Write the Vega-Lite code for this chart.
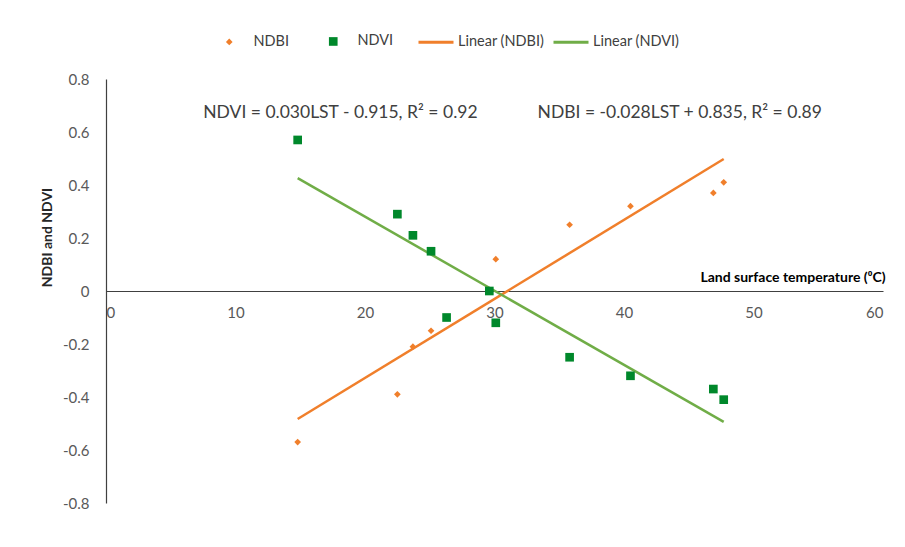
{
  "$schema": "https://vega.github.io/schema/vega-lite/v6.json",
  "width": 777,
  "height": 424,
  "autosize": {"type": "none"},
  "padding": {"left": 106, "top": 79, "right": 22, "bottom": 44},
  "background": "white",
  "config": {
    "view": {"stroke": null},
    "font": "Lato",
    "axis": {"grid": false, "ticks": false, "labelFont": "Lato", "labelFontSize": 15, "labelColor": "#595959", "domainColor": "#404040", "domainWidth": 1.2},
    "legend": {"labelFont": "Lato", "labelFontSize": 14.5, "labelColor": "#404040"}
  },
  "datasets": {
    "pts": [
      {"series": "NDBI", "lst": 14.8, "v": -0.57},
      {"series": "NDBI", "lst": 22.5, "v": -0.39},
      {"series": "NDBI", "lst": 23.7, "v": -0.21},
      {"series": "NDBI", "lst": 25.1, "v": -0.15},
      {"series": "NDBI", "lst": 26.3, "v": -0.10},
      {"series": "NDBI", "lst": 29.6, "v": 0.0},
      {"series": "NDBI", "lst": 30.1, "v": 0.12},
      {"series": "NDBI", "lst": 35.8, "v": 0.25},
      {"series": "NDBI", "lst": 40.5, "v": 0.32},
      {"series": "NDBI", "lst": 46.9, "v": 0.37},
      {"series": "NDBI", "lst": 47.7, "v": 0.41},
      {"series": "NDVI", "lst": 14.8, "v": 0.57},
      {"series": "NDVI", "lst": 22.5, "v": 0.29},
      {"series": "NDVI", "lst": 23.7, "v": 0.21},
      {"series": "NDVI", "lst": 25.1, "v": 0.15},
      {"series": "NDVI", "lst": 26.3, "v": -0.10},
      {"series": "NDVI", "lst": 29.6, "v": 0.0},
      {"series": "NDVI", "lst": 30.1, "v": -0.12},
      {"series": "NDVI", "lst": 35.8, "v": -0.25},
      {"series": "NDVI", "lst": 40.5, "v": -0.32},
      {"series": "NDVI", "lst": 46.9, "v": -0.37},
      {"series": "NDVI", "lst": 47.7, "v": -0.41}
    ],
    "trend": [
      {"series": "Linear (NDBI)", "lst": 14.8, "v": -0.483},
      {"series": "Linear (NDBI)", "lst": 47.7, "v": 0.498},
      {"series": "Linear (NDVI)", "lst": 14.8, "v": 0.426},
      {"series": "Linear (NDVI)", "lst": 47.7, "v": -0.494}
    ],
    "eqs": [
      {"label": "NDVI = 0.030LST - 0.915,  R² = 0.92", "lst": 18.1, "v": 0.672},
      {"label": "NDBI = -0.028LST + 0.835, R² = 0.89", "lst": 44.3, "v": 0.672}
    ]
  },
  "layer": [
    {
      "data": {"name": "trend"},
      "mark": {"type": "line", "strokeWidth": 2.5},
      "encoding": {
        "x": {
          "field": "lst", "type": "quantitative",
          "scale": {"domain": [0, 60], "nice": false, "zero": false},
          "axis": {
            "values": [0, 10, 20, 30, 40, 50, 60],
            "offset": -212,
            "labelPadding": 14,
            "title": "Land surface temperature (⁰C)",
            "titleFont": "Lato", "titleFontSize": 14, "titleFontWeight": "bold", "titleColor": "#000000",
            "titleAnchor": null, "titleAlign": "right", "titleX": 779, "titleY": -10, "titleBaseline": "alphabetic"
          }
        },
        "y": {
          "field": "v", "type": "quantitative",
          "scale": {"domain": [-0.8, 0.8], "nice": false, "zero": false},
          "axis": {
            "values": [-0.8, -0.6, -0.4, -0.2, 0, 0.2, 0.4, 0.6, 0.8],
            "labelExpr": "datum.value == 0 ? '0' : replace(format(datum.value, '.1f'), '\u2212', '-')",
            "labelPadding": 17,
            "title": "NDBI and NDVI",
            "titleFont": "Lato", "titleFontSize": 14, "titleFontWeight": "bold", "titleColor": "#262626",
            "titleAnchor": null, "titleAlign": "center", "titleBaseline": "middle", "titleX": -59, "titleY": 158
          }
        },
        "stroke": {
          "field": "series", "type": "nominal",
          "scale": {"domain": ["Linear (NDBI)", "Linear (NDVI)"], "range": ["#F07F2B", "#70AD47"]},
          "legend": {
            "orient": "none", "legendX": 311, "legendY": -56, "direction": "horizontal", "columns": 2,
            "title": null, "columnPadding": 2, "labelOffset": 3,
            "symbolType": "stroke", "symbolSize": 1225, "symbolStrokeWidth": 3
          }
        }
      }
    },
    {
      "data": {"name": "pts"},
      "mark": {"type": "point", "filled": true, "opacity": 1},
      "encoding": {
        "x": {"field": "lst", "type": "quantitative"},
        "y": {"field": "v", "type": "quantitative"},
        "fill": {
          "field": "series", "type": "nominal",
          "scale": {"domain": ["NDBI", "NDVI"], "range": ["#F07F2B", "#00882B"]},
          "legend": {
            "orient": "none", "legendX": 116, "legendY": -45, "direction": "horizontal", "columns": 2,
            "title": null, "columnPadding": 35, "labelOffset": 17
          }
        },
        "shape": {
          "field": "series", "type": "nominal",
          "scale": {"domain": ["NDBI", "NDVI"], "range": ["diamond", "square"]}
        },
        "size": {
          "field": "series", "type": "nominal",
          "scale": {"domain": ["NDBI", "NDVI"], "range": [45, 75]}
        }
      }
    },
    {
      "data": {"name": "eqs"},
      "mark": {"type": "text", "font": "Lato", "fontSize": 17.5, "color": "#404040"},
      "encoding": {
        "x": {"field": "lst", "type": "quantitative"},
        "y": {"field": "v", "type": "quantitative"},
        "text": {"field": "label"}
      }
    }
  ]
}
